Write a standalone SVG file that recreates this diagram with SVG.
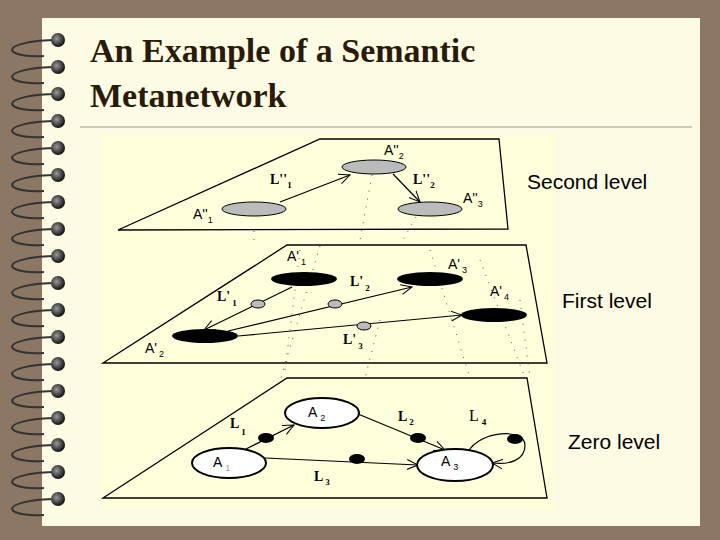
<svg xmlns="http://www.w3.org/2000/svg" width="720" height="540" viewBox="0 0 720 540">
<style>
.pl{fill:#ffffdc;stroke:#000;stroke-width:1.3}
.t{font-family:"Liberation Sans",Arial,sans-serif;font-size:14px;fill:#000}
.s{font-size:9px}
.b{font-family:"Liberation Serif",serif;font-weight:bold;font-size:14px}
.lv{font-family:"Liberation Sans",Arial,sans-serif;font-size:21px;fill:#000}
.ln{stroke:#000;stroke-width:1.2;fill:none}
.dot{stroke:#555;stroke-width:1;stroke-dasharray:1 7;fill:none}
.ti{font-family:"Liberation Serif",serif;font-size:34px;font-weight:bold;fill:#2a1a08}
</style>
<defs>
<marker id="ah" viewBox="0 0 12 12" refX="11" refY="6" markerWidth="12" markerHeight="12" markerUnits="userSpaceOnUse" orient="auto"><path d="M0,1 L11,6 L0,11" fill="none" stroke="#000" stroke-width="1"/></marker>
<radialGradient id="ball" cx="0.4" cy="0.4" r="0.6"><stop offset="0" stop-color="#999"/><stop offset="1" stop-color="#111"/></radialGradient>
</defs>
<rect width="720" height="540" fill="#8b7763"/>
<rect x="42" y="18" width="658" height="508" fill="#fdfbe4"/>
<g id="spiral">
<g id="ring"><path d="M58,40 C30,40 12,45 12,50 C13,55 30,57 44,56" fill="none" stroke="#333" stroke-width="2"/><circle cx="58" cy="40" r="7" fill="url(#ball)"/></g>
<use href="#ring" y="27"/><use href="#ring" y="54"/><use href="#ring" y="81"/><use href="#ring" y="108"/><use href="#ring" y="135"/><use href="#ring" y="162"/><use href="#ring" y="189"/><use href="#ring" y="216"/><use href="#ring" y="243"/><use href="#ring" y="270"/><use href="#ring" y="297"/><use href="#ring" y="324"/><use href="#ring" y="351"/><use href="#ring" y="378"/><use href="#ring" y="405"/><use href="#ring" y="432"/><use href="#ring" y="459"/>
</g>
<text class="ti" x="90" y="62">An Example of a Semantic</text>
<text class="ti" x="90" y="107">Metanetwork</text>
<line x1="80" y1="127" x2="692" y2="127" stroke="#999" stroke-width="1.2"/>
<rect x="100" y="135" width="455" height="375" fill="#ffffdc"/>
<g id="planes">
<polygon class="pl" points="118,230 320,139 499,139 508,229"/>
<polygon class="pl" points="103,363 287,245 526,245 547,363"/>
<polygon class="pl" points="103,498 287,378 527,378 547,498"/>
</g>
<g id="vertical">
<path class="dot" d="M254,231 L254,245 M372,175 L360,240 M320,246 L281,378 M420,210 L400,245 M380,320 L365,378 M300,250 L285,370 M430,250 L470,378 M480,260 L525,378 M520,300 L530,378"/>
</g>
<g id="connectors">
<path class="ln" d="M280,202 L350,175" marker-end="url(#ah)"/>
<path class="ln" d="M393,174 L420,202" marker-end="url(#ah)"/>
<path class="ln" d="M292,287 L204,330" marker-end="url(#ah)"/>
<path class="ln" d="M228,331 L412,287" marker-end="url(#ah)"/>
<path class="ln" d="M238,336 L462,315" marker-end="url(#ah)"/>
<path class="ln" d="M246,449 L294,425" marker-end="url(#ah)"/>
<path class="ln" d="M358,414 L445,450" marker-end="url(#ah)"/>
<path class="ln" d="M265,458 L418,465" marker-end="url(#ah)"/>
<path class="ln" d="M468,452 C480,430 525,428 525,445 C525,460 510,465 492,463" marker-end="url(#ah)"/>
</g>
<g id="n2a1"><ellipse cx="254" cy="209" rx="32" ry="7" fill="#bbb" stroke="#000"/><text class="t" x="193" y="219">A''<tspan class="s" dy="4">1</tspan></text></g>
<g id="n2a2"><ellipse cx="374" cy="167" rx="32" ry="7" fill="#bbb" stroke="#000"/><text class="t" x="384" y="155">A''<tspan class="s" dy="4">2</tspan></text></g>
<g id="n2a3"><ellipse cx="430" cy="209" rx="32" ry="7" fill="#bbb" stroke="#000"/><text class="t" x="463" y="203">A''<tspan class="s" dy="4">3</tspan></text></g>
<g id="n2l"><text class="b" x="270" y="184">L''<tspan class="s" dy="4">1</tspan></text><text class="b" x="413" y="184">L''<tspan class="s" dy="4">2</tspan></text></g>
<g id="n1a1"><ellipse cx="304" cy="279" rx="33" ry="7" fill="#000"/><text class="t" x="287" y="261">A'<tspan class="s" dx="2" dy="4">1</tspan></text></g>
<g id="n1a3"><ellipse cx="430" cy="279" rx="33" ry="7" fill="#000"/><text class="t" x="448" y="269">A'<tspan class="s" dx="2" dy="4">3</tspan></text></g>
<g id="n1a4"><ellipse cx="494" cy="315" rx="33" ry="7" fill="#000"/><text class="t" x="490" y="296">A'<tspan class="s" dx="2" dy="4">4</tspan></text></g>
<g id="n1a2"><ellipse cx="205" cy="336" rx="33" ry="7" fill="#000"/><text class="t" x="145" y="353">A'<tspan class="s" dx="2" dy="4">2</tspan></text></g>
<g id="n1l"><ellipse cx="258" cy="304" rx="7" ry="4" fill="#bbb" stroke="#000"/><ellipse cx="335" cy="304" rx="7" ry="4" fill="#bbb" stroke="#000"/><ellipse cx="364" cy="326" rx="7" ry="4" fill="#bbb" stroke="#000"/>
<text class="b" x="217" y="301">L'<tspan class="s" dx="2" dy="5">1</tspan></text><text class="b" x="350" y="286">L'<tspan class="s" dx="2" dy="5">2</tspan></text><text class="b" x="343" y="344">L'<tspan class="s" dx="2" dy="5">3</tspan></text></g>
<g id="n0a2"><ellipse cx="322" cy="413" rx="37" ry="15" fill="#fff" stroke="#000" stroke-width="2"/><text class="t" x="308" y="417">A<tspan class="s" dx="3" dy="4">2</tspan></text></g>
<g id="n0a1"><ellipse cx="229" cy="463" rx="37" ry="15" fill="#fff" stroke="#000" stroke-width="2"/><text class="t" x="213" y="467">A<tspan class="s" dx="3" dy="4" fill="#999">1</tspan></text></g>
<g id="n0a3"><ellipse cx="455" cy="465" rx="38" ry="16" fill="#fff" stroke="#000" stroke-width="2"/><text class="t" x="441" y="466">A<tspan class="s" dx="3" dy="4">3</tspan></text></g>
<g id="n0l"><ellipse cx="266" cy="438" rx="8" ry="5"/><ellipse cx="418" cy="438" rx="8" ry="5"/><ellipse cx="357" cy="459" rx="8" ry="5"/><ellipse cx="515" cy="439" rx="8" ry="5"/>
<text class="b" x="230" y="428">L<tspan class="s" dx="2" dy="7">1</tspan></text><text class="b" x="398" y="421">L<tspan class="s" dx="2" dy="4">2</tspan></text><text x="469" y="421" font-family="Liberation Serif,serif" font-size="16">L<tspan class="s" font-weight="bold" dx="3" dy="4">4</tspan></text><text class="b" x="314" y="481">L<tspan class="s" dx="2" dy="4">3</tspan></text></g>
<g id="levels"><text class="lv" x="527" y="189">Second level</text><text class="lv" x="562" y="308">First level</text><text class="lv" x="568" y="449">Zero level</text></g>
</svg>
